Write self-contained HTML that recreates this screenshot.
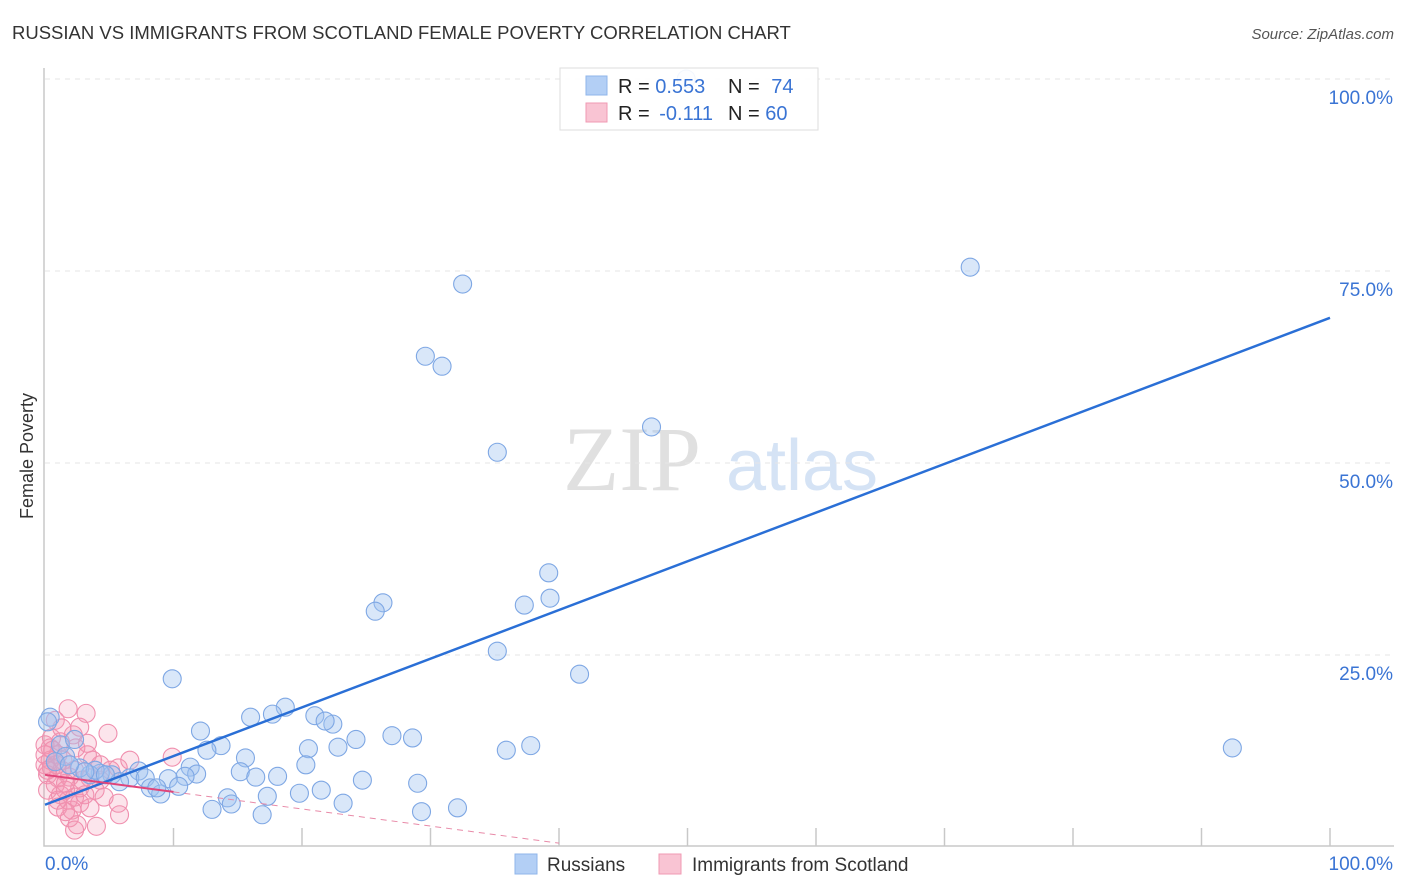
<!DOCTYPE html>
<html><head><meta charset="utf-8"><style>
body{margin:0;background:#fff;font-family:"Liberation Sans",sans-serif;}
svg{display:block}
</style></head><body>
<svg id="chart" width="1406" height="892">
<text x="12" y="39" font-size="18.5" fill="#333">RUSSIAN VS IMMIGRANTS FROM SCOTLAND FEMALE POVERTY CORRELATION CHART</text>
<text x="1394" y="39" font-size="15" fill="#555" font-style="italic" text-anchor="end">Source: ZipAtlas.com</text>
<text x="33" y="456" font-size="18" fill="#333" text-anchor="middle" transform="rotate(-90 33 456)">Female Poverty</text>
<g>
<text x="632" y="490" font-size="92" fill="#e0e0e0" font-family="Liberation Serif,serif" text-anchor="middle">ZIP</text>
<text x="802" y="490" font-size="72" fill="#d5e3f5" text-anchor="middle">atlas</text>
</g>
<g id="grid"></g>
<g id="axes"></g>
<g id="pts"></g>
<g id="lines"></g>
<g>
<rect x="560" y="68" width="258" height="62" fill="#fff" fill-opacity="0.9" stroke="#ddd"/>
<rect x="586" y="76" width="21" height="19" fill="#b3cff5" stroke="#8fb5ea"/>
<rect x="586" y="103" width="21" height="19" fill="#f9c4d3" stroke="#f09ab3"/>
<text x="618" y="93" font-size="20" fill="#222">R = <tspan fill="#3a74d4">0.553</tspan></text>
<text x="728" y="93" font-size="20" fill="#222">N = <tspan fill="#3a74d4" dx="6">74</tspan></text>
<text x="618" y="120" font-size="20" fill="#222">R = <tspan fill="#3a74d4" dx="4">-0.111</tspan></text>
<text x="728" y="120" font-size="20" fill="#222">N = <tspan fill="#3a74d4">60</tspan></text>
</g>
<g>
<rect x="515" y="854" width="22" height="20" fill="#b3cff5" stroke="#8fb5ea"/>
<text x="547" y="871" font-size="19" fill="#333">Russians</text>
<rect x="659" y="854" width="22" height="20" fill="#f9c4d3" stroke="#f09ab3"/>
<text x="692" y="871" font-size="19" fill="#333">Immigrants from Scotland</text>
</g>
</svg>
<script>
const yTicks=[25,50,75,100];
const yTickLabels=["25.0%","50.0%","75.0%","100.0%"];
const xTicks=[10,20,30,40,50,60,70,80,90,100];
const xEndLabels=["0.0%","100.0%"];
const russX=[72,32.5,29.6,30.9,47.2,35.2,39.2,39.3,26.3,25.7,37.3,35.2,41.6,9.9,92.4,18.7,16,17.7,21,22.4,21.8,12.1,27,28.6,24.2,13.7,12.6,22.8,20.5,37.8,35.9,15.6,20.3,11.3,15.2,18.1,16.4,11.8,10.9,24.7,29,9.6,7.3,6.6,5.2,4.3,3.5,5.8,7.8,8.2,9,10.4,8.7,14.2,17.3,19.8,21.5,23.2,14.5,13,16.9,29.3,32.1,0.4,0.2,1.2,2.3,2.7,3.9,4.7,1.6,3.1,0.8,1.9,49.9];
const russY=[75.5,73.3,63.9,62.6,54.7,51.4,35.7,32.4,31.8,30.7,31.5,25.5,22.5,21.9,12.9,18.2,16.9,17.3,17.1,16,16.4,15.1,14.5,14.2,14,13.2,12.6,13,12.8,13.2,12.6,11.6,10.7,10.4,9.8,9.2,9.1,9.5,9.2,8.7,8.3,8.9,9.9,9,9.4,9.6,9.4,8.5,9,7.7,6.9,7.9,7.7,6.4,6.6,7,7.4,5.7,5.6,4.9,4.2,4.6,5.1,16.9,16.3,13.3,14,10.3,10,9.4,11.8,9.8,11.1,10.7,100];
const scotX=[1.8,3.2,0.8,2.7,4.9,2.2,1.2,3.3,0.4,1,9.9,3.3,0,0.5,1.3,2.3,5.7,0.2,1,1.9,3.5,4.3,0.8,1.6,2.7,3.9,1.2,2.3,4.6,1.8,2.7,5.7,1,2.1,3.5,5.8,1.9,2.5,4,2.3,0.4,0,0.5,1.4,0.9,0.2,1.6,3.1,5.1,6.6,0,0.6,1.3,2.4,3.7,4.3,2.9,0.2,1,1.6];
const scotY=[18,17.4,16.5,15.6,14.8,14.6,13.7,13.5,12.9,12,11.7,12,10.7,10.3,10,10,10.3,9.4,9,9.1,9,8.7,8.1,7.4,7.7,7.4,6.8,6.5,6.5,6.1,5.7,5.7,5.2,4.8,5.1,4.2,3.8,2.9,2.7,2.2,11.3,13.3,14.2,11.3,10.7,7.4,8.3,6.8,10,11.3,12,12.6,15.5,12.9,11.3,10.7,8.7,10,6.1,4.6];
const russTrend=[5.5,68.9];
const scotTrend=[9.4,0.5];

const NS="http://www.w3.org/2000/svg";
function xs(v){return 45+v*12.85;}
function ys(v){return 847-v*7.68;}
function mk(tag,attrs,parent){const e=document.createElementNS(NS,tag);for(const k in attrs)e.setAttribute(k,attrs[k]);parent.appendChild(e);return e;}
const grid=document.getElementById('grid'),axes=document.getElementById('axes'),pts=document.getElementById('pts'),lines=document.getElementById('lines');
yTicks.forEach((t,i)=>{
  const l=mk('line',{x1:45,x2:1394,y1:ys(t),y2:ys(t),stroke:'#e6e6e6','stroke-dasharray':'5,5'},grid);
  
  
  const tx=mk('text',{x:1393,y:ys(t)+25,'font-size':19,fill:'#3a74d4','text-anchor':'end'},axes);
  tx.textContent=yTickLabels[i];
  
  
});
const ax=mk('path',{d:'M44 68 V846 H1394',stroke:'#c8c8c8',fill:'none','stroke-width':1.5},axes);


xTicks.forEach(t=>{
  const l=mk('line',{x1:xs(t),x2:xs(t),y1:828,y2:846,stroke:'#c8c8c8','stroke-width':1.5},axes);
  
  
});
const xl0=mk('text',{x:45,y:870,'font-size':19,fill:'#3a74d4'},axes);xl0.textContent=xEndLabels[0];


const xl1=mk('text',{x:1393,y:870,'font-size':19,fill:'#3a74d4','text-anchor':'end'},axes);xl1.textContent=xEndLabels[1];


scotX.forEach((x,i)=>{
  const c=mk('circle',{cx:xs(x),cy:ys(scotY[i]),r:9,fill:'rgba(245,150,180,0.25)',stroke:'#f08fae','stroke-width':1.1},pts);
  
  
});
russX.forEach((x,i)=>{
  const c=mk('circle',{cx:xs(x),cy:ys(russY[i]),r:9,fill:'rgba(160,195,240,0.4)',stroke:'#7ea7e4','stroke-width':1.1},pts);
  
  
});
const bl=mk('line',{x1:xs(0),y1:ys(russTrend[0]),x2:xs(100),y2:ys(russTrend[1]),stroke:'#2a6fd6','stroke-width':2.5},lines);


const sl=(scotTrend[1]-scotTrend[0])/40;
const pl1=mk('line',{x1:xs(0),y1:ys(scotTrend[0]),x2:xs(10),y2:ys(scotTrend[0]+sl*10),stroke:'#e0457a','stroke-width':2},lines);


const pl2=mk('line',{x1:xs(10),y1:ys(scotTrend[0]+sl*10),x2:xs(40),y2:ys(scotTrend[1]),stroke:'#e88aa8','stroke-width':1,'stroke-dasharray':'6,5'},lines);


</script>
</body></html>
